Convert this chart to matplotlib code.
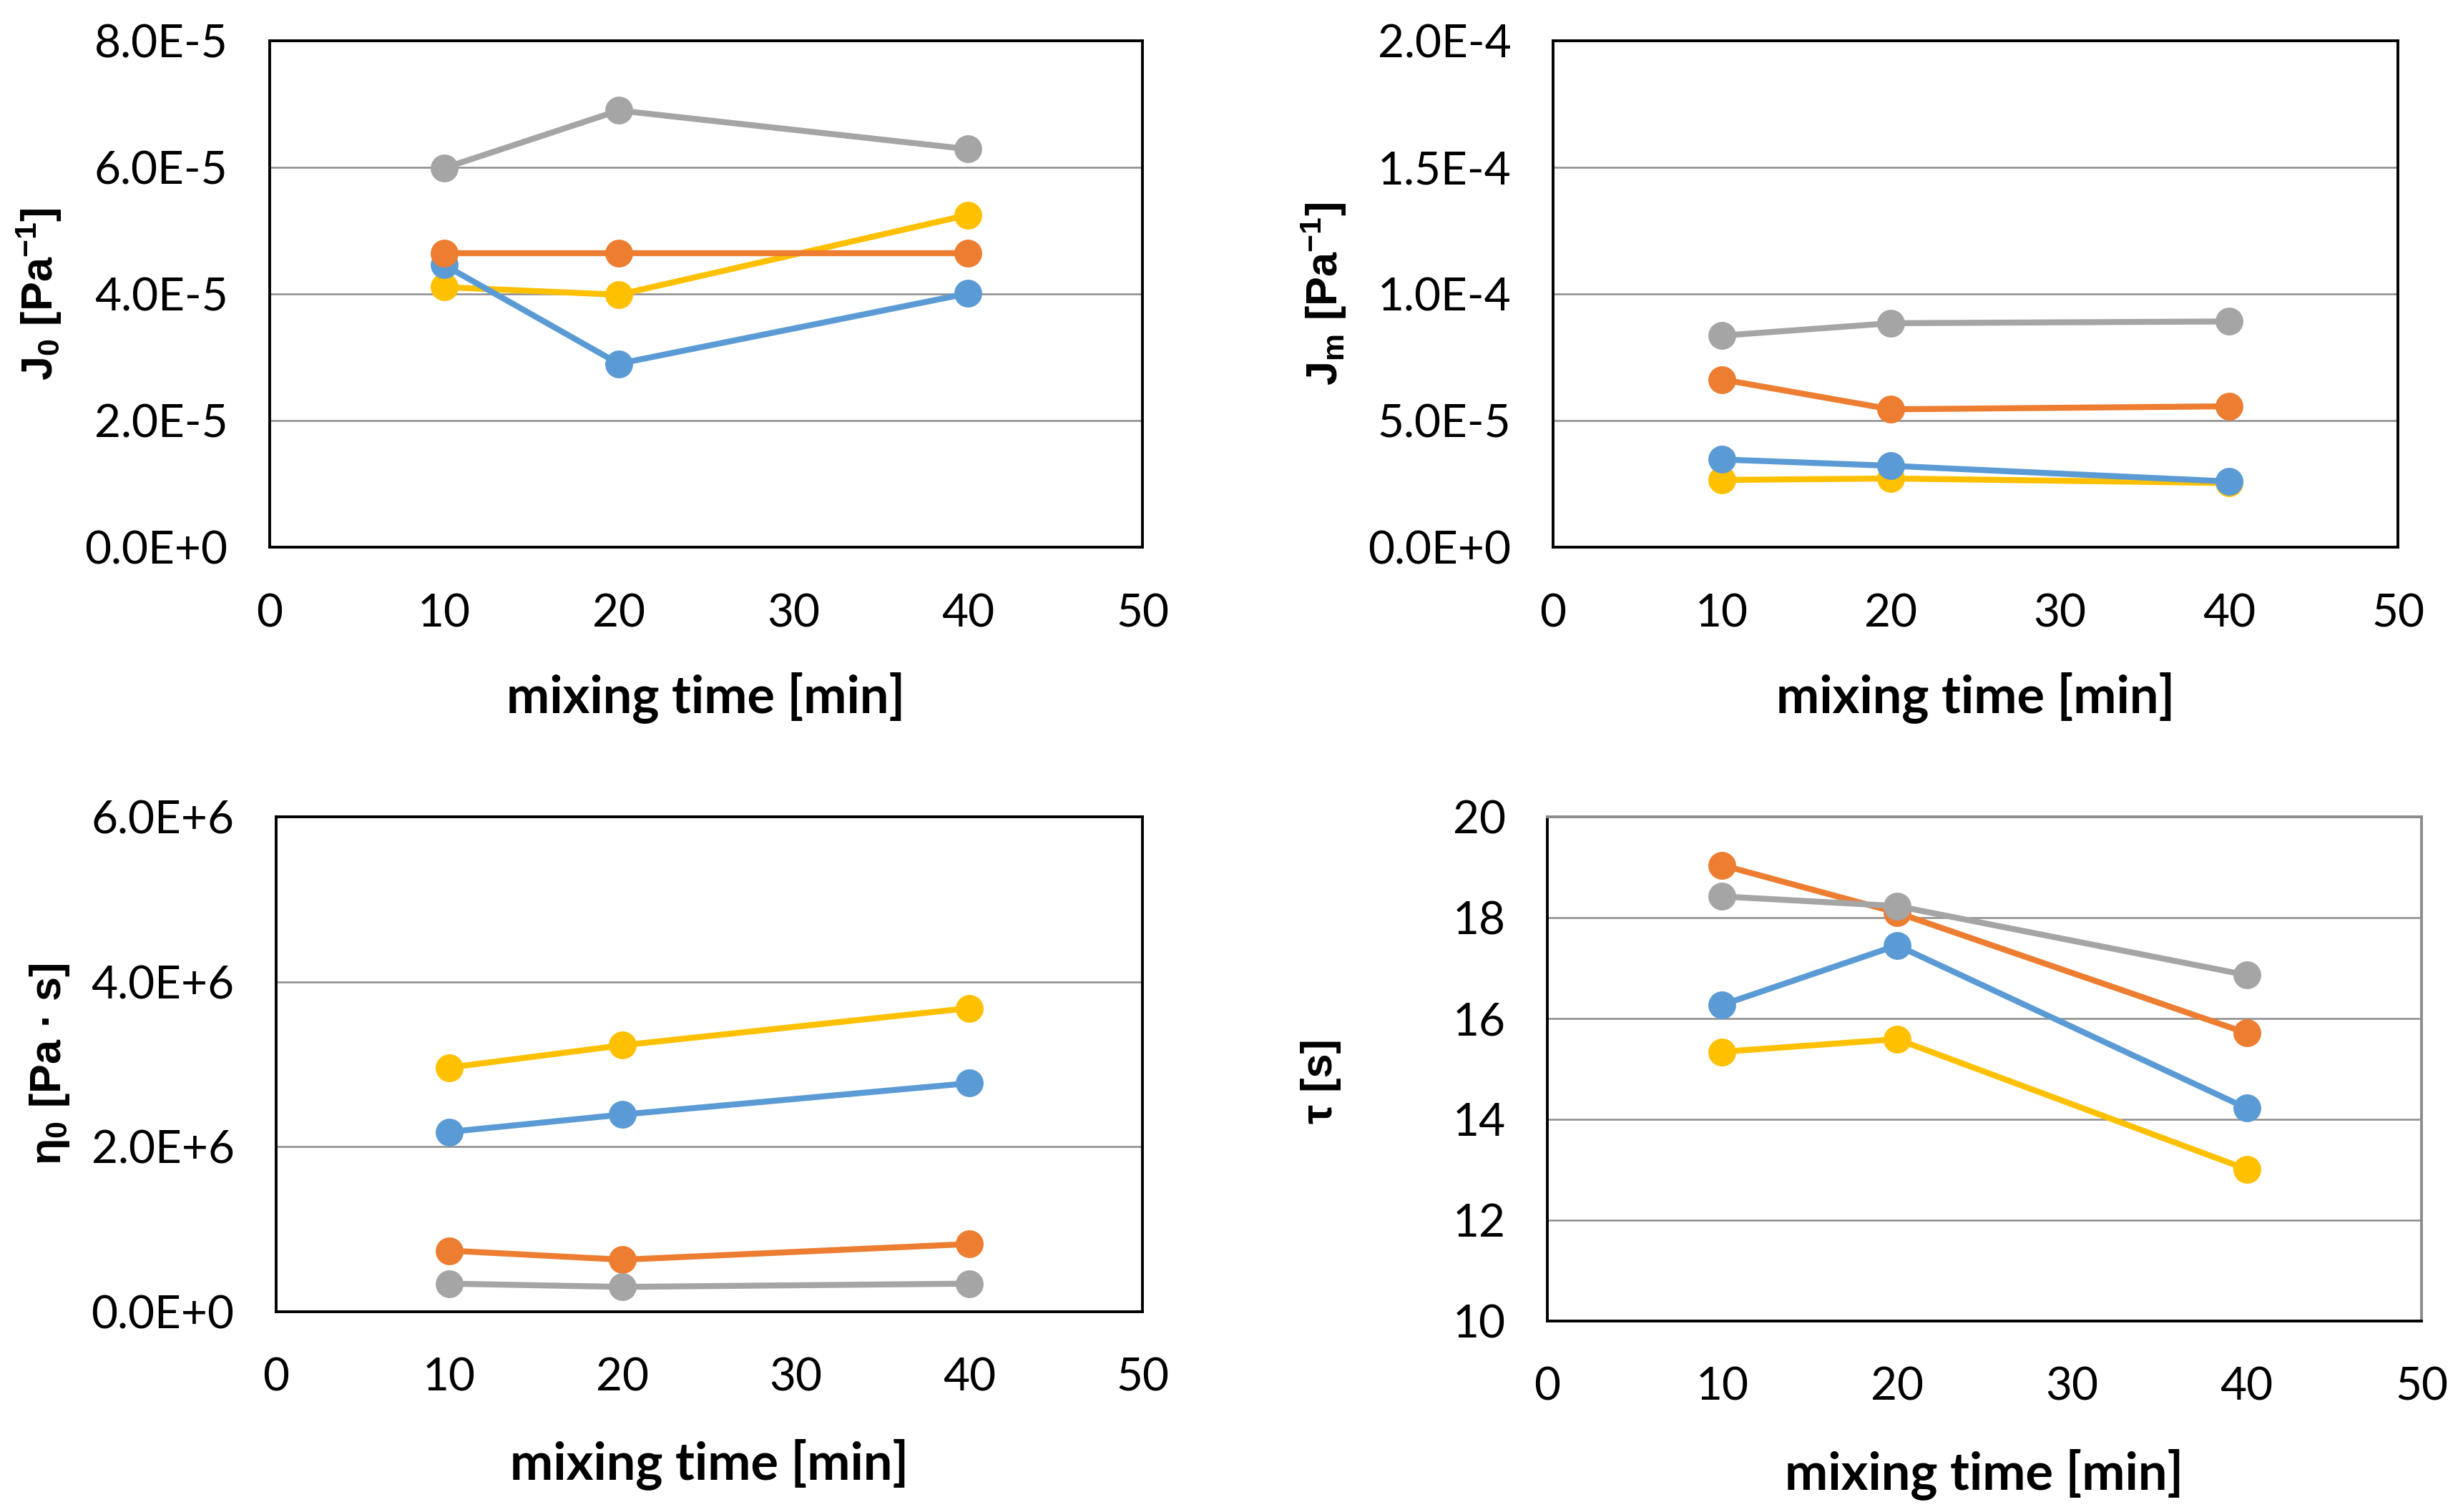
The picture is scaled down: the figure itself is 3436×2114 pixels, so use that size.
import matplotlib
matplotlib.use("Agg")
import matplotlib.pyplot as plt
from matplotlib.ticker import FuncFormatter

# --- data ---
mixing_time = [10, 20, 40]

j0_blue = [4.46e-5, 2.90e-5, 4.01e-5]
j0_orange = [4.65e-5, 4.65e-5, 4.65e-5]
j0_grey = [5.99e-5, 6.90e-5, 6.29e-5]
j0_yellow = [4.11e-5, 3.99e-5, 5.25e-5]

jm_blue = [3.47e-5, 3.22e-5, 2.60e-5]
jm_orange = [6.63e-5, 5.45e-5, 5.57e-5]
jm_grey = [8.36e-5, 8.85e-5, 8.92e-5]
jm_yellow = [2.66e-5, 2.72e-5, 2.54e-5]

eta_blue = [2.18e6, 2.39e6, 2.77e6]
eta_orange = [0.74e6, 0.63e6, 0.82e6]
eta_grey = [0.34e6, 0.30e6, 0.34e6]
eta_yellow = [2.96e6, 3.23e6, 3.68e6]

tau_blue = [16.27, 17.45, 14.22]
tau_orange = [19.04, 18.10, 15.71]
tau_grey = [18.42, 18.23, 16.86]
tau_yellow = [15.34, 15.59, 13.01]

x_ticks = [0, 10, 20, 30, 40, 50]

colors = {"blue": "#5B9BD5", "orange": "#ED7D31", "grey": "#A5A5A5", "yellow": "#FFC000"}

plt.rcParams["font.family"] = ["Lato", "DejaVu Sans"]
plt.rcParams["mathtext.fontset"] = "custom"
plt.rcParams["mathtext.rm"] = "Liberation Sans:bold"
plt.rcParams["mathtext.it"] = "Liberation Sans:bold"
plt.rcParams["mathtext.bf"] = "Liberation Sans:bold"


def sci_fmt(v, pos):
    m, e = f"{v:.1E}".split("E")
    return f"{m}E{int(e):+d}"


fig = plt.figure(figsize=(17.18, 10.57), dpi=200)

panels = [
    # rect, series, ylim, yticks, ylabel, formatter, ylabel x/y, xlabel y
    ([0.1097, 0.638, 0.3551, 0.335],
     (j0_blue, j0_orange, j0_grey, j0_yellow), (0, 8e-5), [0, 2e-5, 4e-5, 6e-5, 8e-5],
     r"J$_0$ [Pa$^{-1}$]", sci_fmt, (-0.236, 0.5), -0.245),
    ([0.6318, 0.638, 0.3438, 0.335],
     (jm_blue, jm_orange, jm_grey, jm_yellow), (0, 2e-4), [0, 5e-5, 1e-4, 1.5e-4, 2e-4],
     r"J$_\mathrm{m}$ [Pa$^{-1}$]", sci_fmt, (-0.242, 0.5), -0.245),
    ([0.1123, 0.1325, 0.3525, 0.3273],
     (eta_blue, eta_orange, eta_grey, eta_yellow), (0, 6e6), [0, 2e6, 4e6, 6e6],
     r"η$_0$ [Pa · s]", sci_fmt, (-0.236, 0.5), -0.256),
    ([0.6295, 0.1263, 0.3557, 0.3335],
     (tau_blue, tau_orange, tau_grey, tau_yellow), (10, 20), [10, 12, 14, 16, 18, 20],
     "τ [s]", None, (-0.236, 0.475), -0.253),
]

for i, (rect, series, ylim, yticks, ylabel, fmt, lxy, xly) in enumerate(panels):
    ax = fig.add_axes(rect)
    blue, orange, grey, yellow = series
    # draw order so overlaps look like the original
    for vals, c, z in [(yellow, "yellow", 3), (blue, "blue", 4), (orange, "orange", 5), (grey, "grey", 6)]:
        ax.plot(mixing_time, vals, color=colors[c], lw=3, marker="o", ms=13, zorder=z,
                clip_on=False)

    ax.set_xlim(0, 50)
    ax.set_xticks(x_ticks)
    ax.set_ylim(*ylim)
    ax.set_yticks(yticks)
    if fmt is not None:
        ax.yaxis.set_major_formatter(FuncFormatter(fmt))
    ax.grid(axis="y", color="#8c8c8c", lw=0.9)
    ax.set_axisbelow(True)
    ax.tick_params(length=0, labelsize=23)
    ax.tick_params(axis="x", pad=23)
    ax.tick_params(axis="y", pad=21)
    for sp in ax.spines.values():
        sp.set_linewidth(1.4)
        sp.set_color("black")
    if i == 3:
        ax.spines["top"].set_color("#8c8c8c")
        ax.spines["right"].set_color("#8c8c8c")

    ax.set_xlabel("mixing time [min]", fontsize=26, fontweight="bold")
    ax.xaxis.set_label_coords(0.5, xly)
    ax.set_ylabel(ylabel, fontsize=22, fontweight="bold", family=["Liberation Sans", "DejaVu Sans"])
    ax.yaxis.set_label_coords(*lxy)

plt.savefig("out.png", dpi=200)
